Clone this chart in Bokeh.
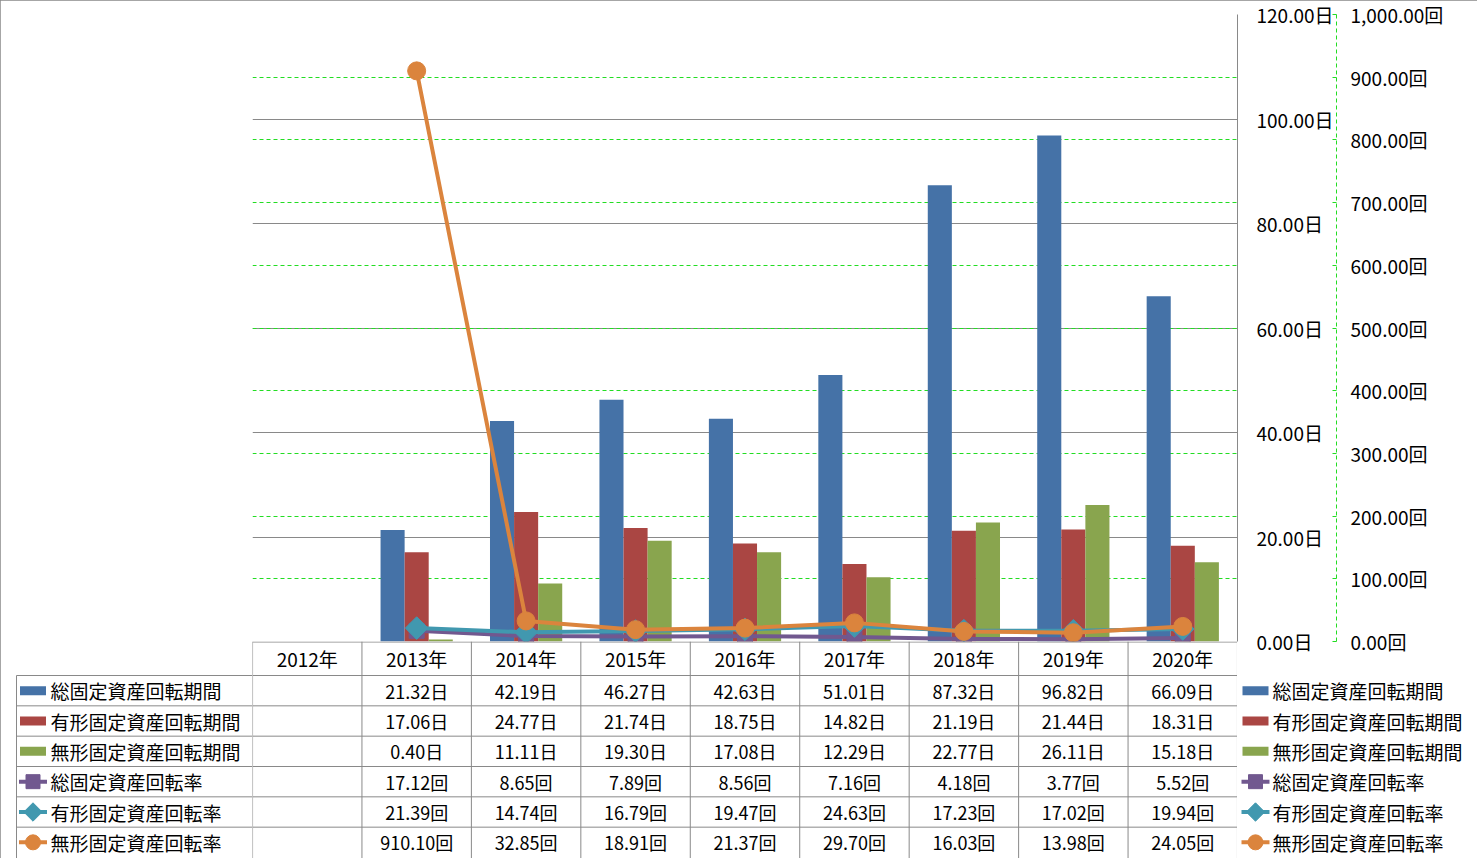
import math
from bokeh.plotting import figure
from bokeh.models import (Range1d, LinearAxis, FixedTicker, CustomJSTickFormatter,
                          PrintfTickFormatter, Grid, ColumnDataSource)
from bokeh.layouts import column, row
from bokeh.transform import dodge
from bokeh.embed import file_html
from bokeh.resources import INLINE
from bokeh.core.properties import value

NAN = float("nan")

# ---------------- data ----------------
years = ["2012年", "2013年", "2014年", "2015年", "2016年", "2017年", "2018年", "2019年", "2020年"]
total_period = [NAN, 21.32, 42.19, 46.27, 42.63, 51.01, 87.32, 96.82, 66.09]
tangible_period = [NAN, 17.06, 24.77, 21.74, 18.75, 14.82, 21.19, 21.44, 18.31]
intangible_period = [NAN, 0.40, 11.11, 19.30, 17.08, 12.29, 22.77, 26.11, 15.18]
total_rate = [NAN, 17.12, 8.65, 7.89, 8.56, 7.16, 4.18, 3.77, 5.52]
tangible_rate = [NAN, 21.39, 14.74, 16.79, 19.47, 24.63, 17.23, 17.02, 19.94]
intangible_rate = [NAN, 910.10, 32.85, 18.91, 21.37, 29.70, 16.03, 13.98, 24.05]

series_names = ["総固定資産回転期間", "有形固定資産回転期間", "無形固定資産回転期間",
                "総固定資産回転率", "有形固定資産回転率", "無形固定資産回転率"]
series_units = ["日", "日", "日", "回", "回", "回"]
primary_ticks = [0, 20, 40, 60, 80, 100, 120]
secondary_ticks = [0, 100, 200, 300, 400, 500, 600, 700, 800, 900, 1000]

# ---------------- style ----------------
FONT = "Noto Sans CJK JP"
BLUE, RED, GREEN = "#4572A7", "#AA4643", "#89A54E"
PURPLE, TEAL, ORANGE = "#71588F", "#4198AF", "#DB843D"
GRAY = "#898989"
LIME = "#22dd22"

W_TOTAL, H_TOTAL = 1477, 858
PLOT_L, PLOT_R, PLOT_T, PLOT_B = 252, 1237, 14, 641
n = len(years)
TH = H_TOTAL - PLOT_B

x = list(range(n))
src = ColumnDataSource(dict(x=x, tp=total_period, gp=tangible_period, ip=intangible_period,
                            tr=total_rate, gr=tangible_rate, ir=intangible_rate))

# ---------------- main chart ----------------
p = figure(width=W_TOTAL, height=H_TOTAL, x_range=Range1d(-0.5, n - 0.5), y_range=Range1d(0, 120),
           output_backend="svg", toolbar_location=None,
           min_border_left=PLOT_L, min_border_right=W_TOTAL - PLOT_R,
           min_border_top=PLOT_T, min_border_bottom=TH,
           x_axis_location=None, y_axis_location="right")
p.outline_line_color = None
p.background_fill_color = "white"
p.border_fill_color = "white"
p.extra_y_ranges = {"sec": Range1d(0, 1000)}

ax1 = p.yaxis[0]
ax1.ticker = FixedTicker(ticks=primary_ticks)
ax1.formatter = PrintfTickFormatter(format="%.2f日")
ax1.axis_line_color = GRAY
ax1.major_tick_in = 0
ax1.major_tick_out = 0
ax1.minor_tick_line_color = None
ax1.major_label_standoff = 19
ax1.major_label_text_font = FONT
ax1.major_label_text_font_size = "19px"
ax1.major_label_text_color = "black"

ax2 = LinearAxis(y_range_name="sec", ticker=FixedTicker(ticks=secondary_ticks),
                 formatter=CustomJSTickFormatter(code="return tick.toLocaleString('en-US',{minimumFractionDigits:2,maximumFractionDigits:2}) + '回';"))
ax2.axis_line_color = LIME
ax2.axis_line_dash = "4 3"
ax2.major_tick_line_color = LIME
ax2.major_tick_in = 4
ax2.major_tick_out = 0
ax2.minor_tick_line_color = None
ax2.major_label_standoff = 14
ax2.major_label_text_font = FONT
ax2.major_label_text_font_size = "19px"
ax2.major_label_text_color = "black"
p.add_layout(ax2, "right")

p.xgrid.visible = False
p.ygrid.ticker = FixedTicker(ticks=primary_ticks)
p.ygrid.grid_line_color = GRAY
p.ygrid.grid_line_width = 1

g2 = Grid(dimension=1, ticker=FixedTicker(ticks=secondary_ticks[1:-1]), y_range_name="sec",
          grid_line_color=LIME, grid_line_dash="4 3", grid_line_width=1)
p.add_layout(g2)

BW = 0.22
p.vbar(x=dodge("x", -BW, range=p.x_range), top="tp", width=BW, source=src, fill_color=BLUE, line_color=None)
p.vbar(x=dodge("x", 0, range=p.x_range), top="gp", width=BW, source=src, fill_color=RED, line_color=None)
p.vbar(x=dodge("x", BW, range=p.x_range), top="ip", width=BW, source=src, fill_color=GREEN, line_color=None)

p.line("x", "tr", source=src, y_range_name="sec", line_color=PURPLE, line_width=4)
p.scatter("x", "tr", source=src, y_range_name="sec", marker="square", size=15,
          fill_color=PURPLE, line_color=PURPLE)
p.line("x", "gr", source=src, y_range_name="sec", line_color=TEAL, line_width=4)
p.scatter("x", "gr", source=src, y_range_name="sec", marker="square", angle=math.pi / 4, size=16,
          fill_color=TEAL, line_color=TEAL)
p.line("x", "ir", source=src, y_range_name="sec", line_color=ORANGE, line_width=4)
p.scatter("x", "ir", source=src, y_range_name="sec", marker="circle", size=18,
          fill_color=ORANGE, line_color=ORANGE)

# ---------------- data table (three transparent panels over the bottom border) ----------------
HEAD = 34
ROWH = (TH - 1 - HEAD) / 6
row_centers = [HEAD + (r + 0.5) * ROWH for r in range(6)]
row_lines = [HEAD + k * ROWH for k in range(6)]


def panel(width, xr):
    f = figure(width=width, height=TH, x_range=xr, y_range=Range1d(TH, 0),
               output_backend="svg", toolbar_location=None, min_border=0,
               x_axis_location=None, y_axis_location=None)
    f.outline_line_color = None
    f.xgrid.visible = False
    f.ygrid.visible = False
    f.background_fill_color = None
    f.border_fill_color = None
    return f


# middle: the values grid, same category scale as the chart
tm = panel(PLOT_R - PLOT_L, Range1d(-0.5, n - 0.5))
x0s, y0s, x1s, y1s = [], [], [], []
x0s.append(-0.5); x1s.append(n - 0.5); y0s.append(0.5); y1s.append(0.5)
for yy in row_lines:
    x0s.append(-0.5); x1s.append(n - 0.5); y0s.append(yy); y1s.append(yy)
for i in range(n + 1):
    xx = min(max(i - 0.5, -0.4995), n - 0.5005)
    x0s.append(xx); x1s.append(xx); y0s.append(0); y1s.append(TH)
tm.segment(x0=x0s, y0=y0s, x1=x1s, y1=y1s, line_color=GRAY, line_width=1)

tm.text(x=x, y=[HEAD / 2] * n, text=years, text_align="center", text_baseline="middle",
        text_font=value(FONT), text_font_size=value("19px"), text_color="black")

all_series = [total_period, tangible_period, intangible_period, total_rate, tangible_rate, intangible_rate]
for r, (vals, unit) in enumerate(zip(all_series, series_units)):
    xs = [i for i, v in enumerate(vals) if not math.isnan(v)]
    labels = [f"{vals[i]:,.2f}{unit}" for i in xs]
    tm.text(x=xs, y=[row_centers[r]] * len(xs), text=labels, text_align="center", text_baseline="middle",
            text_font=value(FONT), text_font_size=value("18px"), text_color="black")

# legend panels (pixel coordinates)
tl = panel(PLOT_L, Range1d(0, PLOT_L))
tr_ = panel(W_TOTAL - PLOT_R, Range1d(PLOT_R, W_TOTAL))

tl.segment(x0=[16] + [16] * len(row_lines), y0=[HEAD] + row_lines,
           x1=[16] + [PLOT_L] * len(row_lines), y1=[TH] + row_lines,
           line_color=GRAY, line_width=1)

colors = [BLUE, RED, GREEN, PURPLE, TEAL, ORANGE]
markers = [None, None, None, ("square", 0, 14), ("square", math.pi / 4, 13), ("circle", 0, 15)]
for f, key_c, text_x in [(tl, 32.5, 50), (tr_, 1255, 1272)]:
    for r in range(6):
        ycen = row_centers[r]
        if markers[r] is None:
            f.rect(x=[key_c], y=[ycen], width=26, height=9, fill_color=colors[r], line_color=None)
        else:
            m, ang, sz = markers[r]
            f.segment(x0=[key_c - 14], y0=[ycen], x1=[key_c + 14], y1=[ycen],
                      line_color=colors[r], line_width=4)
            f.scatter(x=[key_c], y=[ycen], marker=m, angle=ang, size=sz,
                      fill_color=colors[r], line_color=colors[r])
        f.text(x=[text_x], y=[ycen], text=[series_names[r]], text_align="left",
               text_baseline="middle", text_font=value(FONT), text_font_size=value("19px"),
               text_color="black")

table_row = row(tl, tm, tr_, spacing=0, styles={"margin-top": f"-{TH}px"})
layout = column(p, table_row, spacing=0,
                styles={"outline": "1px solid #898989", "outline-offset": "-1px"})

open("out.html", "w").write(file_html(layout, INLINE))
